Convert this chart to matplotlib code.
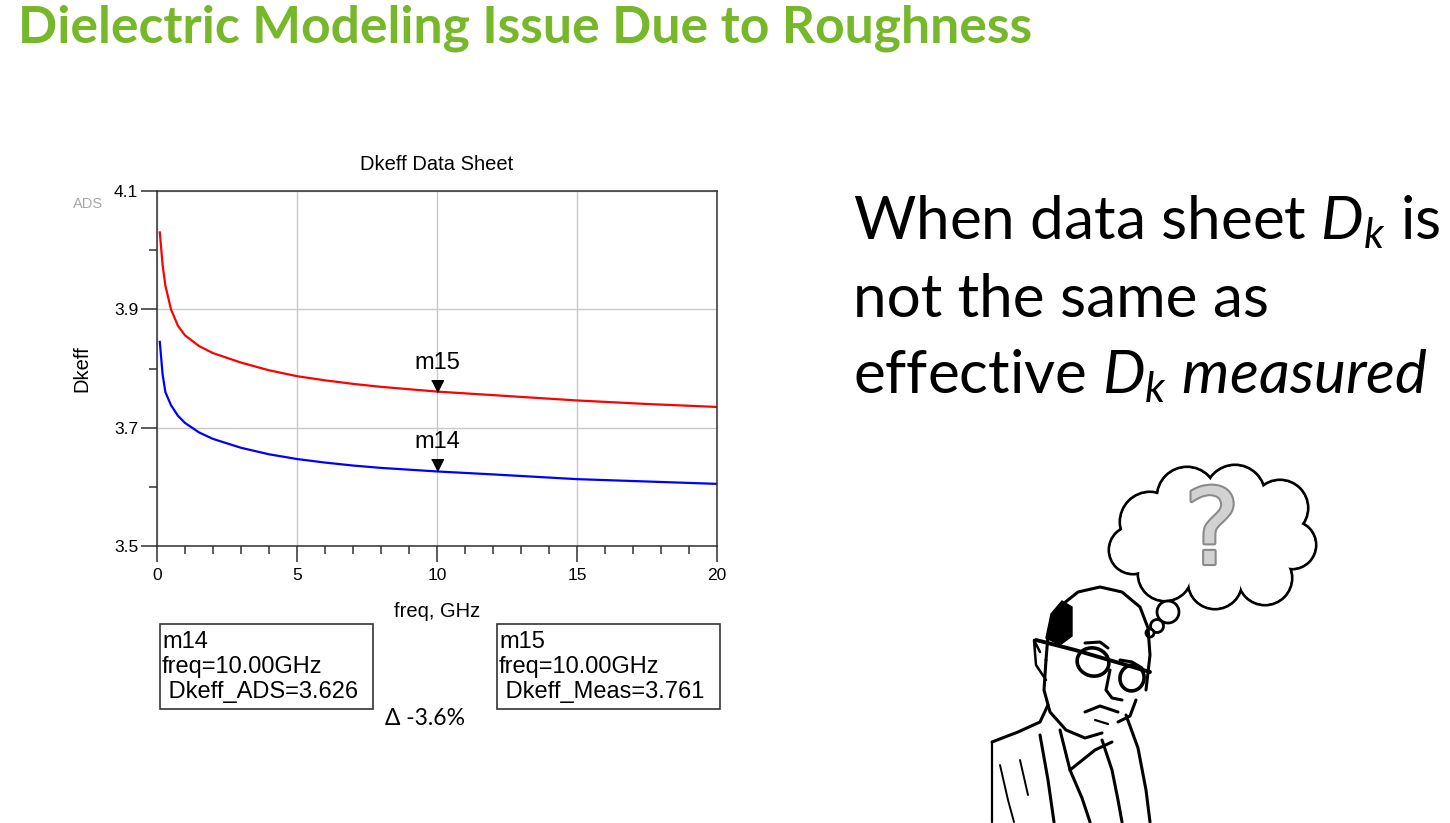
import numpy as np
from matplotlib import pyplot as plt
from matplotlib.patches import Circle, Ellipse, Rectangle, Polygon
from matplotlib.ticker import MultipleLocator
import matplotlib.patheffects as pe

# values
freq = [0.1, 0.2, 0.3, 0.5, 0.75, 1.0, 1.5, 2.0, 3.0, 4.0, 5.0, 6.0, 7.0, 8.0,
        10.0, 12.0, 15.0, 17.5, 20.0]
dk_meas = [4.030, 3.975, 3.940, 3.900, 3.872, 3.856, 3.838, 3.826, 3.810, 3.797,
           3.787, 3.780, 3.774, 3.769, 3.761, 3.755, 3.746, 3.740, 3.735]
dk_ads = [3.845, 3.790, 3.760, 3.738, 3.720, 3.708, 3.692, 3.681, 3.666, 3.655,
          3.647, 3.641, 3.636, 3.632, 3.626, 3.621, 3.613, 3.609, 3.605]
marker_names = ['m14', 'm15']
marker_freq = 10.0
marker_vals = [3.626, 3.761]
box_lines = [['m14', 'freq=10.00GHz', ' Dkeff_ADS=3.626'],
             ['m15', 'freq=10.00GHz', ' Dkeff_Meas=3.761']]
delta_text = '\u0394 -3.6%'
yticks = [3.5, 3.7, 3.9, 4.1]

W, H = 1450, 823
plt.rcParams['font.family'] = ['Liberation Sans', 'DejaVu Sans']
plt.rcParams['mathtext.fontset'] = 'custom'
plt.rcParams['mathtext.rm'] = 'Lato'
plt.rcParams['mathtext.it'] = 'Lato:italic'

fig = plt.figure(figsize=(W / 100, H / 100), dpi=100)
fig.patch.set_facecolor('white')

# --- chart ---
l, r, t, b = 157, 717, 191, 546
ax = fig.add_axes([l / W, 1 - b / H, (r - l) / W, (b - t) / H])
ax.plot(freq, dk_meas, color='#ff0000', lw=1.6)
ax.plot(freq, dk_ads, color='#0000ff', lw=1.6)
ax.set_xlim(0, 20)
ax.set_ylim(3.5, 4.1)
ax.xaxis.set_major_locator(MultipleLocator(5))
ax.xaxis.set_minor_locator(MultipleLocator(1))
ax.set_yticks(yticks)
ax.yaxis.set_minor_locator(MultipleLocator(0.1))
ax.grid(True, which='major', color='#c8c8c8', lw=1)
ax.tick_params(which='major', direction='out', length=11.5, width=1.1, labelsize=12.5,
               color='#303030')
ax.tick_params(which='minor', direction='out', length=5.5, width=1.1, color='#303030')
ax.tick_params(axis='x', which='major', pad=4)
ax.tick_params(axis='y', which='major', pad=2)
for s in ['left', 'bottom', 'top', 'right']:
    ax.spines[s].set_color('#303030')
    ax.spines[s].set_linewidth(1.1)
ax.set_title('Dkeff Data Sheet', fontsize=14.5, pad=15)
ax.set_ylabel('Dkeff', fontsize=14.5, labelpad=16)
ax.set_xlabel('freq, GHz', fontsize=14.5, labelpad=14)

tri = [(-0.55, 1.1), (0.55, 1.1), (0.0, 0.0)]
for name, v in zip(marker_names, marker_vals):
    ax.plot([marker_freq], [v], marker=tri, markersize=17, color='black', ls='none')
    ax.annotate(name, xy=(marker_freq, v), xytext=(0, 13), textcoords='offset points',
                ha='center', va='bottom', fontsize=17)

# --- overlay in pixel coordinates ---
ov = fig.add_axes([0, 0, 1, 1], facecolor='none')
ov.set_xlim(0, W)
ov.set_ylim(H, 0)
ov.axis('off')

ov.text(88, 204, 'ADS', fontsize=10.5, color='#a8a8a8', ha='center', va='center')

for (x0, x1), lines in zip([(160, 373), (497, 720)], box_lines):
    ov.add_patch(Rectangle((x0, 624), x1 - x0, 85, fill=False, ec='#333333', lw=1.2))
    for i, s in enumerate(lines):
        ov.text(x0 + 2, 648 + i * 25, s, fontsize=17, va='baseline', ha='left')
ov.text(425, 725, delta_text, fontsize=16.5, ha='center', va='baseline',
        family=['Lato', 'DejaVu Sans'])

# --- slide title and text ---
fig.canvas.draw()
rend = fig.canvas.get_renderer()

def fit(txt, width):
    bb = txt.get_window_extent(rend)
    txt.set_fontsize(txt.get_fontsize() * width / bb.width)

title = ov.text(18, 42, 'Dielectric Modeling Issue Due to Roughness', fontsize=30,
                family='Lato', fontweight='bold', color='#76b82a', va='baseline')
fit(title, 1014)

side = ['When data sheet $D_k$ is', 'not the same as', r'effective $D_k\ measured$']
base = [240, 317, 394]
objs = []
for s, y in zip(side, base):
    objs.append(ov.text(853, y, s, fontsize=40, family='Lato', va='baseline'))
bb = objs[0].get_window_extent(rend)
scale = 587 / bb.width
for o in objs:
    o.set_fontsize(o.get_fontsize() * scale)

# --- thought cloud ---
puffs = [(1150, 522, 30), (1187, 497, 30), (1235, 495, 30), (1280, 508, 28),
         (1292, 545, 24), (1265, 578, 27), (1215, 582, 27), (1165, 574, 27),
         (1133, 550, 24)]
fill_in = [(1210, 537, 50), (1250, 542, 38), (1170, 540, 38)]
for cx, cy, rr in puffs:
    ov.add_patch(Circle((cx, cy), rr, fc='white', ec='black', lw=2.2, zorder=3))
for cx, cy, rr in puffs:
    ov.add_patch(Circle((cx, cy), rr - 1.2, fc='white', ec='none', zorder=4))
for cx, cy, rr in fill_in:
    ov.add_patch(Circle((cx, cy), rr, fc='white', ec='none', zorder=4))
for cx, cy, rr in [(1168, 612, 11), (1157, 626, 6.5), (1150, 633, 4)]:
    ov.add_patch(Circle((cx, cy), rr, fc='white', ec='black', lw=2, zorder=4))
ov.text(1212, 535, '?', fontsize=76, family='DejaVu Sans', color='#d2d2d2', ha='center',
        va='center', zorder=5,
        path_effects=[pe.withStroke(linewidth=3, foreground='#8a8a8a')])

# --- thinker sketch ---
def stroke(pts, lw=2.2):
    xs, ys = zip(*pts)
    ov.plot(xs, ys, color='black', lw=lw, solid_capstyle='round', zorder=6)

stroke([(1046, 660), (1048, 635), (1058, 608), (1078, 592), (1100, 587), (1122, 592),
        (1140, 607), (1148, 628), (1150, 655), (1146, 690)])
stroke([(1046, 660), (1044, 690), (1050, 712), (1066, 730), (1085, 738), (1102, 733)])
ov.add_patch(Polygon([(1046, 638), (1051, 614), (1062, 601), (1072, 607), (1072, 636),
                      (1060, 645)], closed=True, fc='black', ec='black', zorder=6))
stroke([(1036, 640), (1075, 650), (1150, 672)], lw=2.8)
ov.add_patch(Ellipse((1093, 662), 32, 28, angle=15, fill=False, ec='black', lw=2.6, zorder=6))
ov.add_patch(Ellipse((1132, 678), 24, 26, angle=15, fill=False, ec='black', lw=2.6, zorder=6))
stroke([(1085, 643), (1100, 642), (1108, 648)])
stroke([(1120, 660), (1132, 662), (1142, 668)])
stroke([(1110, 670), (1106, 690), (1112, 698), (1122, 700)])
stroke([(1085, 712), (1100, 706), (1118, 712)])
stroke([(1095, 720), (1108, 724)], lw=1.6)
stroke([(1118, 722), (1130, 716), (1136, 700)])
stroke([(1040, 652), (1034, 640), (1036, 665), (1046, 680)], lw=1.8)
# body
stroke([(992, 742), (1018, 732), (1040, 722), (1048, 705)])
stroke([(1060, 730), (1070, 770), (1082, 798), (1090, 822)])
stroke([(1040, 735), (1048, 780), (1054, 822)])
stroke([(1070, 770), (1095, 750), (1112, 742)])
stroke([(1102, 740), (1112, 770), (1118, 800), (1122, 822)])
stroke([(1126, 715), (1138, 748), (1146, 790), (1150, 822)])
stroke([(1000, 765), (1008, 800), (1014, 822)], lw=1.4)
stroke([(1020, 760), (1028, 795)], lw=1.4)
stroke([(992, 742), (992, 822)], lw=1.6)

fig.savefig('out.png', dpi=100)
